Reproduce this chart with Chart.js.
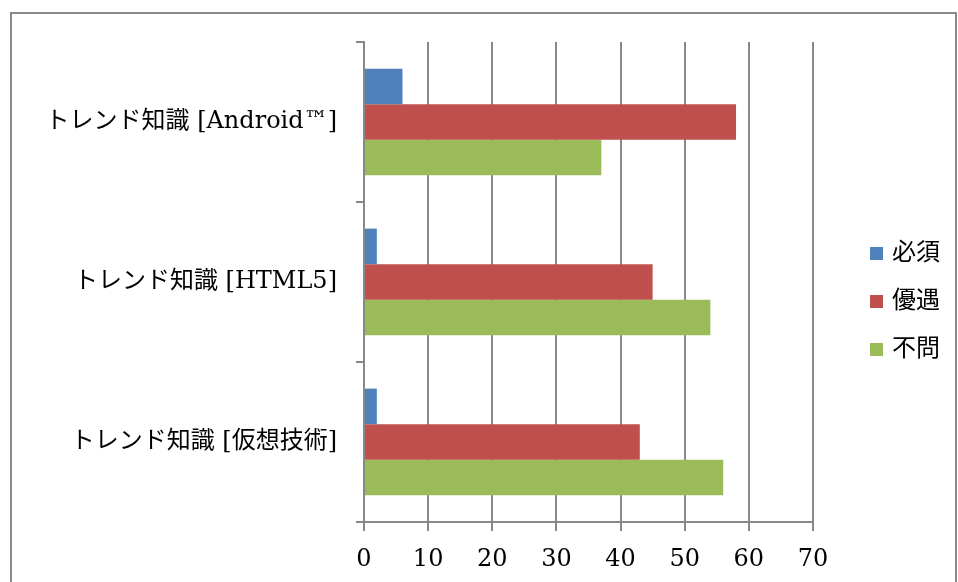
<!DOCTYPE html>
<html>
<head>
<meta charset="utf-8">
<script src="https://cdn.jsdelivr.net/npm/chart.js@4/dist/chart.umd.min.js"></script>
<style>
    html, body { margin: 0; padding: 0; background: #fff; }
    #wrap { width: 958px; height: 582px; }
</style>
</head>
<body>
<div id="wrap"><canvas id="skillChart" width="958" height="582"></canvas></div>
<script>
// Data
const categories = ['トレンド知識 [Android™]', 'トレンド知識 [HTML5]', 'トレンド知識 [仮想技術]'];
const seriesNames = ['必須', '優遇', '不問'];
const hissu = [6, 2, 2];
const yuuguu = [58, 45, 43];
const fumon = [37, 54, 56];
const xTicks = [0, 10, 20, 30, 40, 50, 60, 70];
const colors = ['#4F81BD', '#C0504D', '#9BBB59'];

const FONT = '"DejaVu Serif", "Noto Sans CJK JP", serif';
const GRID = '#888888';

// Bingkai luar dan legenda manual
const framePlugin = {
    id: 'frame',
    beforeDraw(chart) {
        const ctx = chart.ctx;
        ctx.save();
        ctx.strokeStyle = GRID;
        ctx.lineWidth = 2;
        ctx.strokeRect(11, 13, 945, 600);
        ctx.restore();
    },
    afterDraw(chart) {
        const ctx = chart.ctx;
        ctx.save();
        ctx.font = '24px ' + FONT;
        ctx.textBaseline = 'middle';
        chart.data.datasets.forEach((ds, i) => {
            const cy = 254 + i * 48;
            ctx.fillStyle = ds.backgroundColor;
            ctx.fillRect(870, cy - 7, 13, 13);
            ctx.fillStyle = '#000';
            ctx.fillText(ds.label, 892, cy);
        });
        ctx.restore();
    }
};

const ctx = document.getElementById('skillChart').getContext('2d');
new Chart(ctx, {
    type: 'bar',
    data: {
        labels: categories,
        datasets: [
            { label: seriesNames[0], data: hissu, backgroundColor: colors[0] },
            { label: seriesNames[1], data: yuuguu, backgroundColor: colors[1] },
            { label: seriesNames[2], data: fumon, backgroundColor: colors[2] }
        ]
    },
    options: {
        indexAxis: 'y',
        responsive: false,
        animation: false,
        categoryPercentage: 0.667,
        barPercentage: 1.0,
        layout: { padding: { top: 42, right: 145, bottom: 0, left: 0 } },
        plugins: {
            legend: { display: false },
            tooltip: { enabled: false }
        },
        scales: {
            x: {
                min: 0, max: 70,
                afterBuildTicks: (scale) => { scale.ticks = xTicks.map(v => ({ value: v })); },
                afterFit: (scale) => { scale.height = 60; },
                grid: { color: GRID, lineWidth: 2, tickLength: 9, drawTicks: true },
                border: { color: GRID, width: 2 },
                ticks: { color: '#000', font: { family: FONT, size: 24 }, padding: 14, maxRotation: 0 }
            },
            y: {
                afterFit: (scale) => { scale.width = 364; },
                grid: { color: GRID, lineWidth: 2, tickLength: 8, drawOnChartArea: false, offset: true },
                border: { color: GRID, width: 2 },
                ticks: { color: '#000', font: { family: FONT, size: 24 }, padding: 19 }
            }
        }
    },
    plugins: [framePlugin]
});
</script>
</body>
</html>
